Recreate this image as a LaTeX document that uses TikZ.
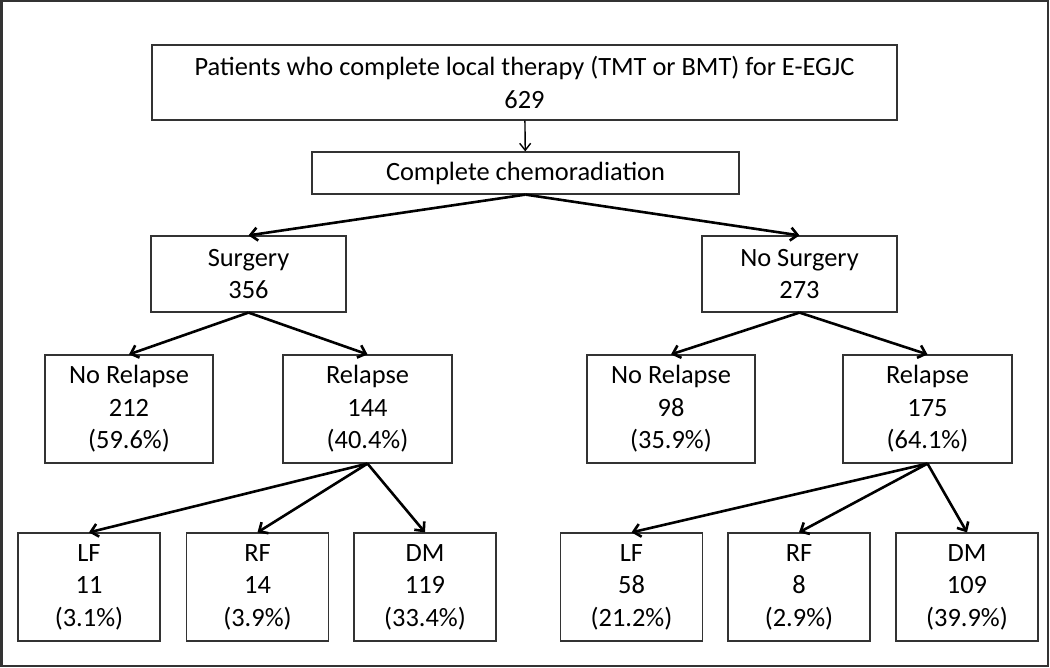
\documentclass[tikz,border=0pt]{standalone}
\usepackage{fontspec}
\setmainfont{Carlito}
\usepackage{tikz}
\usetikzlibrary{arrows.meta}

\begin{document}
\begin{tikzpicture}[x=1bp,y=-1bp,
    box/.style={draw=black!80, line width=1.2bp, align=center, inner sep=0pt,
                font=\fontsize{26.5}{32.5}\selectfont},
    link/.style={-{Straight Barb[length=7bp,width=13bp]}, line width=2.6bp},
    thin link/.style={-{Straight Barb[length=7bp,width=11bp]}, line width=1.4bp}]
          \useasboundingbox (0,0) rectangle (1050,668);
          \draw[line width=2bp, color=black!80] (1.5,1.5) rectangle (1047.5,665.5);
          % top of the tree
          \node[box, minimum width=745bp, minimum height=75bp] (all) at (524.5,82.5)
               {Patients who complete local therapy (TMT or BMT) for E-EGJC\\629};
          \node[box, minimum width=427bp, minimum height=42bp] (chemo) at (525.5,173)
               {Complete chemoradiation};
          \node[box, minimum width=195bp, minimum height=76bp] (surg) at (248.5,274) {Surgery\\356};
          \node[box, minimum width=195bp, minimum height=76bp] (nosurg) at (799.5,274) {No Surgery\\273};
          % relapse level
          \node[box, minimum width=168bp, minimum height=108bp] (norel1) at (129,409) {No Relapse\\212\\(59.6\%)};
          \node[box, minimum width=169bp, minimum height=108bp] (rel1) at (367.5,409) {Relapse\\144\\(40.4\%)};
          \node[box, minimum width=168bp, minimum height=108bp] (norel2) at (671,409) {No Relapse\\98\\(35.9\%)};
          \node[box, minimum width=169bp, minimum height=108bp] (rel2) at (927.5,409) {Relapse\\175\\(64.1\%)};
          % failure pattern
          \node[box, minimum width=142bp, minimum height=108bp] (lf1) at (89,587) {LF\\11\\(3.1\%)};
          \node[box, minimum width=142bp, minimum height=108bp] (rf1) at (257.5,587) {RF\\14\\(3.9\%)};
          \node[box, minimum width=142bp, minimum height=108bp] (dm1) at (425,587) {DM\\119\\(33.4\%)};
          \node[box, minimum width=142bp, minimum height=108bp] (lf2) at (631.5,587) {LF\\58\\(21.2\%)};
          \node[box, minimum width=142bp, minimum height=108bp] (rf2) at (799,587) {RF\\8\\(2.9\%)};
          \node[box, minimum width=142bp, minimum height=108bp] (dm2) at (967,587) {DM\\109\\(39.9\%)};
          \draw[thin link] (all) -- (chemo);
          \draw[link] (chemo.south) -- (surg.north);
          \draw[link] (chemo.south) -- (nosurg.north);
          \foreach \a/\b/\c in {surg/norel1/rel1, nosurg/norel2/rel2}
          {
          \draw[link] (\a.south) -- (\b.north);
          \draw[link] (\a.south) -- (\c.north);
          }
          \foreach \r/\s in {rel1/lf1, rel1/rf1, rel1/dm1, rel2/lf2, rel2/rf2, rel2/dm2}
          {
          \draw[link] (\r.south) -- (\s.north);
          }
        \end{tikzpicture}
\end{document}
